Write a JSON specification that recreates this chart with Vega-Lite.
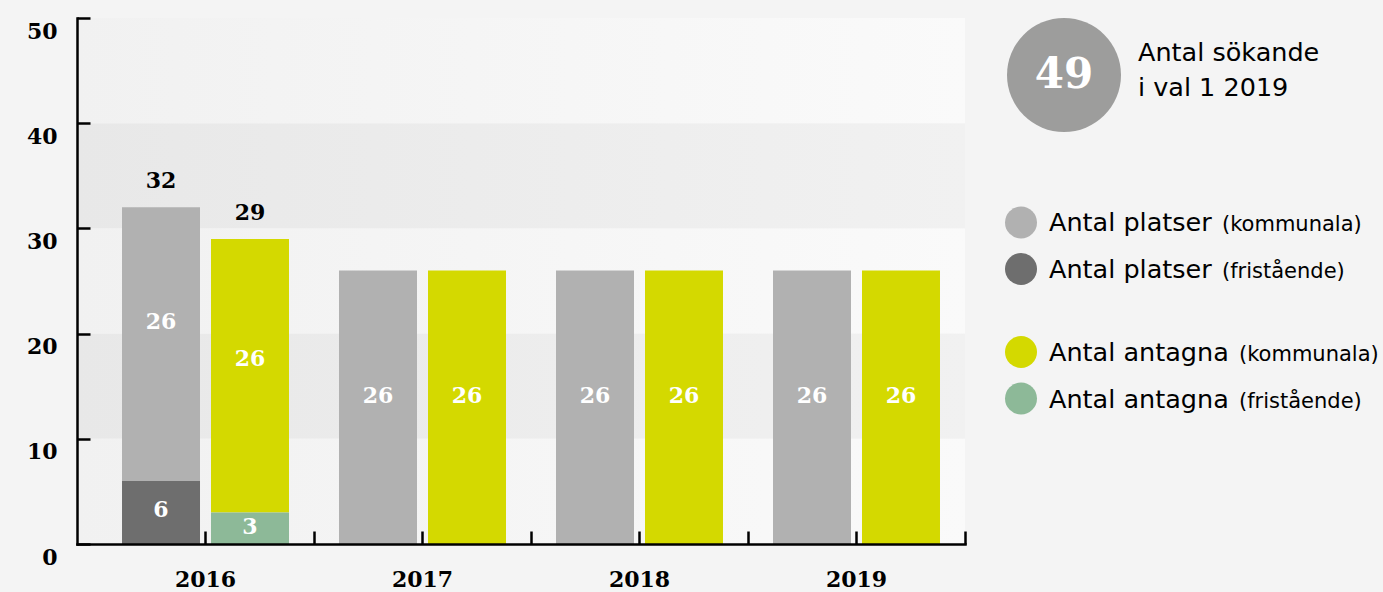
{
  "$schema": "https://vega.github.io/schema/vega-lite/v6.json",
  "background": "#f4f4f4",
  "padding": {"left": 0, "top": 16, "right": 10, "bottom": 12},
  "config": {
    "view": {"stroke": null},
    "axisY": {"domainColor": "black", "domainWidth": 2.5, "domainCap": "square",
      "tickColor": "black", "tickWidth": 2.5, "tickSize": -13, "labelFont": "DejaVu Serif", "labelFontWeight": "bold", "labelFontSize": 22,
      "labelColor": "black", "labelPadding": 33, "labelBaseline": "middle", "labelOffset": 13, "labelFlush": false, "labelOverlap": false,
      "grid": false, "minExtent": 77, "maxExtent": 77}
  },
  "spacing": 18,
  "datasets": {
    "bars": [
      {"year": "2016", "kind": "platser", "type": "kommunala", "series": "Antal platser (kommunala)", "value": 26},
      {"year": "2016", "kind": "platser", "type": "fristående", "series": "Antal platser (fristående)", "value": 6},
      {"year": "2016", "kind": "antagna", "type": "kommunala", "series": "Antal antagna (kommunala)", "value": 26},
      {"year": "2016", "kind": "antagna", "type": "fristående", "series": "Antal antagna (fristående)", "value": 3},
      {"year": "2017", "kind": "platser", "type": "kommunala", "series": "Antal platser (kommunala)", "value": 26},
      {"year": "2017", "kind": "antagna", "type": "kommunala", "series": "Antal antagna (kommunala)", "value": 26},
      {"year": "2018", "kind": "platser", "type": "kommunala", "series": "Antal platser (kommunala)", "value": 26},
      {"year": "2018", "kind": "antagna", "type": "kommunala", "series": "Antal antagna (kommunala)", "value": 26},
      {"year": "2019", "kind": "platser", "type": "kommunala", "series": "Antal platser (kommunala)", "value": 26},
      {"year": "2019", "kind": "antagna", "type": "kommunala", "series": "Antal antagna (kommunala)", "value": 26}
    ],
    "bands": [
      {"lo": 0, "hi": 10, "shade": "light"},
      {"lo": 10, "hi": 20, "shade": "dark"},
      {"lo": 20, "hi": 30, "shade": "light"},
      {"lo": 30, "hi": 40, "shade": "dark"},
      {"lo": 40, "hi": 50, "shade": "light"}
    ],
    "header": [{"count": 49, "label": "Antal sökande\ni val 1 2019"}],
    "legend": [
      {"group": "platser", "type": "kommunala", "series": "Antal platser (kommunala)", "main": "Antal platser", "sub": "(kommunala)"},
      {"group": "platser", "type": "fristående", "series": "Antal platser (fristående)", "main": "Antal platser", "sub": "(fristående)"},
      {"group": "antagna", "type": "kommunala", "series": "Antal antagna (kommunala)", "main": "Antal antagna", "sub": "(kommunala)"},
      {"group": "antagna", "type": "fristående", "series": "Antal antagna (fristående)", "main": "Antal antagna", "sub": "(fristående)"}
    ]
  },
  "hconcat": [
    {
      "width": 888,
      "height": 526,
      "layer": [
        {
          "data": {"name": "bands"},
          "transform": [{"filter": "datum.shade == 'dark'"}],
          "mark": {"type": "rect", "fill": {"gradient": "linear", "x1": 0, "x2": 1, "y1": 0, "y2": 0, "stops": [{"offset": 0, "color": "#e8e8e8"}, {"offset": 1, "color": "#f1f1f1"}]}},
          "encoding": {
            "y": {"field": "lo", "type": "quantitative", "scale": {"domain": [0, 50], "nice": false}, "axis": {"title": null}},
            "y2": {"field": "hi"}
          }
        },
        {
          "data": {"name": "bands"},
          "transform": [{"filter": "datum.shade == 'light'"}],
          "mark": {"type": "rect", "fill": {"gradient": "linear", "x1": 0, "x2": 1, "y1": 0, "y2": 0, "stops": [{"offset": 0, "color": "#f1f1f1"}, {"offset": 1, "color": "#fafafa"}]}},
          "encoding": {
            "y": {"field": "lo", "type": "quantitative", "axis": {"title": null}},
            "y2": {"field": "hi"}
          }
        },
        {
          "data": {"name": "bars"},
          "transform": [{"stack": "value", "groupby": ["year", "kind"], "sort": [{"field": "type", "order": "ascending"}], "as": ["y0", "y1"]}],
          "mark": {"type": "bar"},
          "encoding": {
            "x": {"field": "year", "type": "nominal", "scale": {"paddingInner": 0, "paddingOuter": 0.0461, "align": 1, "round": false},
              "axis": {"orient": "bottom", "zindex": 1, "domainColor": "black", "domainWidth": 2.5, "domainCap": "square", "tickColor": "black", "tickWidth": 2.5,
                "tickSize": -13, "tickBand": "center", "labelFont": "DejaVu Serif", "labelFontWeight": "bold", "labelFontSize": 22, "labelColor": "black",
                "labelPadding": 38, "labelAngle": 0, "labelBaseline": "top", "title": null}},
            "xOffset": {"field": "kind", "type": "nominal", "scale": {"domain": ["platser", "antagna"], "paddingInner": 0.1236, "paddingOuter": 0.281}},
            "y": {"field": "y1", "type": "quantitative", "axis": {"title": null, "zindex": 1, "values": [0, 10, 20, 30, 40, 50]}},
            "y2": {"field": "y0"},
            "color": {"field": "series", "type": "nominal", "legend": null,
              "scale": {"domain": ["Antal platser (kommunala)", "Antal platser (fristående)", "Antal antagna (kommunala)", "Antal antagna (fristående)"],
                "range": ["#b1b1b1", "#6e6e6e", "#d4d900", "#8db998"]}}
          }
        },
        {
          "data": {"name": "bars"},
          "transform": [
            {"stack": "value", "groupby": ["year", "kind"], "sort": [{"field": "type", "order": "ascending"}], "as": ["y0", "y1"]},
            {"calculate": "datum.y0 * 1.17 + datum.value * 0.54", "as": "ylab"}
          ],
          "mark": {"type": "text", "font": "DejaVu Serif", "fontWeight": "bold", "fontSize": 22, "color": "white", "baseline": "middle"},
          "encoding": {
            "x": {"field": "year", "type": "nominal", "axis": null},
            "xOffset": {"field": "kind", "type": "nominal"},
            "y": {"field": "ylab", "type": "quantitative", "axis": {"title": null}},
            "text": {"field": "value", "type": "quantitative"}
          }
        },
        {
          "data": {"name": "bars"},
          "transform": [
            {"aggregate": [{"op": "sum", "field": "value", "as": "total"}, {"op": "count", "as": "n"}], "groupby": ["year", "kind"]},
            {"filter": "datum.n > 1"}
          ],
          "mark": {"type": "text", "font": "DejaVu Serif", "fontWeight": "bold", "fontSize": 22, "color": "black", "baseline": "middle", "dy": -26},
          "encoding": {
            "x": {"field": "year", "type": "nominal",
              "axis": {"orient": "bottom", "zindex": 1, "domain": false, "labels": false, "tickBand": "center", "tickOffset": 108.5, "tickColor": "black", "tickWidth": 2.5, "tickSize": -13, "title": null}},
            "xOffset": {"field": "kind", "type": "nominal"},
            "y": {"field": "total", "type": "quantitative", "axis": {"title": null}},
            "text": {"field": "total", "type": "quantitative"}
          }
        }
      ],
      "resolve": {"axis": {"x": "independent"}}
    },
    {
      "spacing": 49,
      "vconcat": [
        {
          "width": 158,
          "height": 114,
          "data": {"name": "header"},
          "layer": [
            {"mark": {"type": "circle", "size": 12996, "color": "#9d9d9c", "opacity": 1}, "encoding": {}},
            {"mark": {"type": "text", "font": "DejaVu Serif", "fontWeight": "bold", "fontSize": 42, "color": "white", "baseline": "middle"},
              "encoding": {"text": {"field": "count", "type": "quantitative"}}},
            {"mark": {"type": "text", "font": "DejaVu Sans", "fontSize": 25.5, "color": "black", "align": "left", "baseline": "middle", "dx": 74, "dy": -22, "lineBreak": "\n", "lineHeight": 35},
              "encoding": {"text": {"field": "label", "type": "nominal"}}}
          ]
        },
        {
          "width": 72,
          "height": 259,
          "data": {"name": "legend"},
          "encoding": {
            "y": {"field": "group", "type": "nominal", "scale": {"domain": ["platser", "antagna"], "paddingInner": 0, "paddingOuter": 0}, "axis": null},
            "yOffset": {"field": "type", "type": "nominal", "scale": {"domain": ["kommunala", "fristående"], "paddingOuter": 0.892}}
          },
          "layer": [
            {"mark": {"type": "circle", "size": 1024, "opacity": 1},
              "encoding": {"color": {"field": "series", "type": "nominal", "legend": null,
                "scale": {"domain": ["Antal platser (kommunala)", "Antal platser (fristående)", "Antal antagna (kommunala)", "Antal antagna (fristående)"],
                  "range": ["#b3b3b3", "#707070", "#d5d900", "#8db997"]}}}},
            {"mark": {"type": "text", "font": "DejaVu Sans", "fontSize": 25.5, "color": "black", "align": "left", "baseline": "alphabetic", "dx": 28, "dy": 9},
              "encoding": {"text": {"field": "main", "type": "nominal"}}},
            {"transform": [{"filter": "datum.group == 'platser'"}],
              "mark": {"type": "text", "font": "DejaVu Sans", "fontSize": 21, "color": "black", "align": "left", "baseline": "alphabetic", "dx": 201, "dy": 9},
              "encoding": {"text": {"field": "sub", "type": "nominal"}}},
            {"transform": [{"filter": "datum.group == 'antagna'"}],
              "mark": {"type": "text", "font": "DejaVu Sans", "fontSize": 21, "color": "black", "align": "left", "baseline": "alphabetic", "dx": 218, "dy": 9},
              "encoding": {"text": {"field": "sub", "type": "nominal"}}}
          ]
        }
      ]
    }
  ]
}
